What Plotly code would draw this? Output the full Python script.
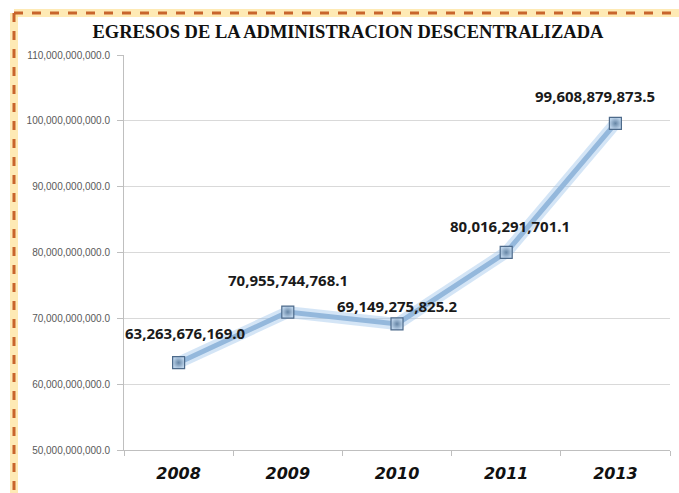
import plotly.graph_objects as go

years = ["2008", "2009", "2010", "2011", "2013"]
values = [63263676169.0, 70955744768.1, 69149275825.2, 80016291701.1, 99608879873.5]
value_labels = ["63,263,676,169.0", "70,955,744,768.1", "69,149,275,825.2",
                "80,016,291,701.1", "99,608,879,873.5"]
label_shift_x = [6, 0, 0, 4, -20]
label_shift_y = [30, 32, 18, 26, 27]
y_ticks = [50e9, 60e9, 70e9, 80e9, 90e9, 100e9, 110e9]

W, H = 679, 493
ML, MR, MT, MB = 124, 9, 55, 43
PW, PH = W - ML - MR, H - MT - MB

fig = go.Figure()
# glow under the line
fig.add_trace(go.Scatter(x=years, y=values, mode="lines",
                         line=dict(color="rgba(160,198,235,0.45)", width=12),
                         hoverinfo="skip", showlegend=False))
fig.add_trace(go.Scatter(x=years, y=values, mode="lines+markers",
                         line=dict(color="#94b8dc", width=5),
                         marker=dict(symbol="square", size=12, color="#bcd3ea",
                                     gradient=dict(type="radial", color="#6585a5"),
                                     line=dict(color="#4d6a8a", width=1.2)),
                         showlegend=False))

for i, (v, t, dx, dy) in enumerate(zip(values, value_labels, label_shift_x, label_shift_y)):
    fig.add_annotation(x=i, y=v, xref="x", yref="y", text="<b>" + t + "</b>", showarrow=False,
                       xshift=dx, yshift=dy,
                       font=dict(family="Noto Sans, Open Sans, sans-serif", size=15, color="#1a1a1a"))

def px_x(p):
    return (p - ML) / PW

def px_y(p):
    return 1 - (p - MT) / PH

shapes = []
shapes.append(dict(type="line", xref="paper", yref="paper",
                   x0=px_x(14), x1=px_x(14), y0=px_y(13), y1=px_y(500),
                   line=dict(color="rgba(253,225,150,0.7)", width=8)))
shapes.append(dict(type="line", xref="paper", yref="paper",
                   x0=px_x(14), x1=px_x(690), y0=px_y(13), y1=px_y(13),
                   line=dict(color="rgba(253,225,150,0.7)", width=8)))
shapes.append(dict(type="line", xref="paper", yref="paper",
                   x0=px_x(14), x1=px_x(14), y0=px_y(13), y1=px_y(500),
                   line=dict(color="#c8652c", width=3, dash="dash")))
shapes.append(dict(type="line", xref="paper", yref="paper",
                   x0=px_x(14), x1=px_x(690), y0=px_y(13), y1=px_y(13),
                   line=dict(color="#c8652c", width=3, dash="dash")))

fig.update_layout(
    width=W, height=H,
    margin=dict(l=ML, r=MR, t=MT, b=MB),
    paper_bgcolor="white", plot_bgcolor="white",
    title=dict(text="<b>EGRESOS DE LA ADMINISTRACION DESCENTRALIZADA</b>",
               x=348 / W, xanchor="center", y=1 - 32 / H, yanchor="middle",
               font=dict(family="Liberation Serif, serif", size=18.5, color="#111111")),
    shapes=shapes,
    xaxis=dict(type="category", tickmode="array", tickvals=years,
               ticktext=["<i><b>" + y + "</b></i>" for y in years],
               tickfont=dict(family="DejaVu Sans, sans-serif", size=16, color="#111111"),
               showline=True, linecolor="#bfbfbf", linewidth=1,
               ticks="outside", tickson="boundaries", ticklen=5, tickcolor="#bfbfbf",
               ticklabelstandoff=9, showgrid=False, range=[-0.5, 4.5]),
    yaxis=dict(range=[50e9, 110e9], tickvals=y_ticks, tickformat=",.1f",
               tickfont=dict(family="Liberation Sans, Arial, sans-serif", size=10, color="#595959"),
               showline=True, linecolor="#bfbfbf", linewidth=1,
               ticks="outside", ticklen=6, tickcolor="#bfbfbf", ticklabelstandoff=5,
               showgrid=True, gridcolor="#d9d9d9", gridwidth=1, zeroline=False),
)

fig.write_html("out.html", config={"displayModeBar": False},
               post_script="document.body.style.margin='0';document.body.style.overflow='hidden';")
